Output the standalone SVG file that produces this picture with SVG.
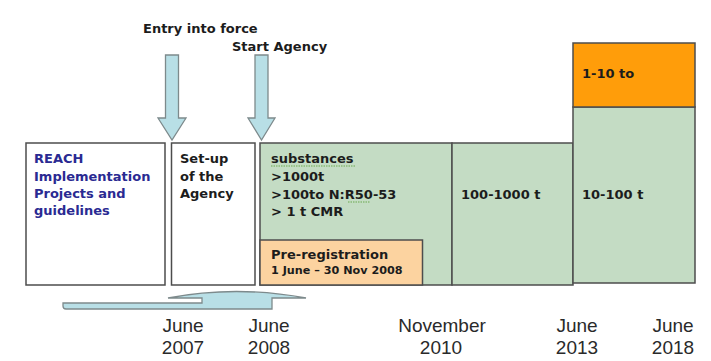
<svg xmlns="http://www.w3.org/2000/svg" width="711" height="361" viewBox="0 0 711 361">
  <style>
    .box { stroke: #4d4d4d; stroke-width: 1.5; }
    .white { fill: #ffffff; }
    .green { fill: #c4dcc4; }
    .orange { fill: #ff9d0a; }
    .peach { fill: #fcd3a0; }
    .arrow { fill: #b8dfe6; stroke: #7d8a8c; stroke-width: 1.3; }
    .lbl { font-family: "DejaVu Sans", Verdana, sans-serif; font-weight: bold; font-size: 13px; fill: #1c1c1c; }
    .blue { fill: #2a2a92; }
    .small { font-size: 11.2px; }
    .date { font-family: "Liberation Sans", Arial, sans-serif; font-size: 19px; fill: #2a2a2a; text-anchor: middle; }
    .squiggle { fill: none; stroke: #6aa84f; stroke-width: 1; stroke-dasharray: 1.5 1; }
  </style>

  <rect width="711" height="361" fill="#ffffff"/>

  <!-- event labels -->
  <g id="label-entry">
    <text class="lbl" x="143" y="33">Entry into force</text>
  </g>
  <g id="label-agency">
    <text class="lbl" x="232" y="51">Start Agency</text>
  </g>

  <!-- downward event arrows and bottom timeline arrow -->
  <g id="connectors">
    <path class="arrow" d="M165.5,55 H178.5 V118 H186 L172,140 L158,118 H165.5 Z"/>
    <path class="arrow" d="M255,55 H268 V118 H275 L261.5,140 L248,118 H255 Z"/>
    <path class="arrow" d="M63,303 H202 V298 H168 Q236,285 306,298 H272 V309 H66 Q63,309 63,306 Z"/>
  </g>

  <g id="reach">
    <rect class="box white" x="26" y="143" width="139" height="142"/>
    <text class="lbl blue" x="34" y="163">REACH</text>
    <text class="lbl blue" x="34" y="181">Implementation</text>
    <text class="lbl blue" x="34" y="198">Projects and</text>
    <text class="lbl blue" x="34" y="215">guidelines</text>
  </g>

  <g id="setup">
    <rect class="box white" x="171.5" y="143" width="83.5" height="142"/>
    <text class="lbl" x="180" y="163">Set-up</text>
    <text class="lbl" x="180" y="181">of the</text>
    <text class="lbl" x="180" y="198">Agency</text>
  </g>

  <g id="phase-2010">
    <rect class="box green" x="260" y="143" width="192" height="142"/>
    <text class="lbl" x="271" y="163">substances</text>
    <path class="squiggle" d="M271,166 H356"/>
    <text class="lbl" x="271" y="181">&gt;1000t</text>
    <text class="lbl" x="271" y="199">&gt;100to N:R50-53</text>
    <path class="squiggle" d="M348,202 H370"/>
    <text class="lbl" x="271" y="216">&gt; 1 t CMR</text>
  </g>

  <g id="pre-registration">
    <rect class="box peach" x="260" y="240" width="162.5" height="45"/>
    <text class="lbl" x="271" y="259">Pre-registration</text>
    <text class="lbl small" x="271" y="274">1 June – 30 Nov 2008</text>
  </g>

  <g id="phase-2013">
    <rect class="box green" x="452" y="143" width="121" height="142"/>
    <text class="lbl" x="461" y="199">100-1000 t</text>
  </g>

  <g id="phase-2018">
    <rect class="box green" x="573" y="107" width="122" height="176"/>
    <text class="lbl" x="582" y="199">10-100 t</text>
  </g>

  <g id="phase-2018-top">
    <rect class="box orange" x="573" y="43" width="122" height="64"/>
    <text class="lbl" x="582" y="78">1-10 to</text>
  </g>

  <!-- timeline dates -->
  <g id="dates">
    <text class="date" x="183" y="332">June</text>
    <text class="date" x="183" y="354">2007</text>
    <text class="date" x="269" y="332">June</text>
    <text class="date" x="269" y="354">2008</text>
    <text class="date" x="442" y="332">November</text>
    <text class="date" x="441" y="354">2010</text>
    <text class="date" x="577" y="332">June</text>
    <text class="date" x="577" y="354">2013</text>
    <text class="date" x="673" y="332">June</text>
    <text class="date" x="673" y="354">2018</text>
  </g>
</svg>
